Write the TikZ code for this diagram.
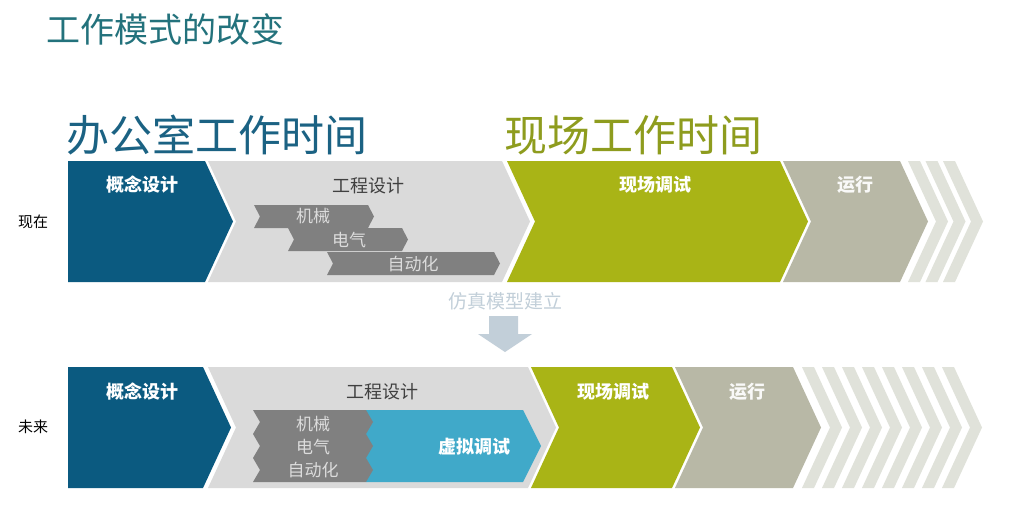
\documentclass[tikz,border=0pt]{standalone}
\usepackage{fontspec}
\setmainfont{Noto Sans CJK SC}
\definecolor{cblue}{HTML}{0B5A80}
\definecolor{cgrey}{HTML}{DADADA}
\definecolor{csub}{HTML}{808080}
\definecolor{cgreen}{HTML}{A9B416}
\definecolor{cbeige}{HTML}{B8B8A6}
\definecolor{cstripe}{HTML}{E0E2DA}
\definecolor{cvirt}{HTML}{40A9C9}
\definecolor{ctitle}{HTML}{23727C}
\definecolor{coffice}{HTML}{1B6283}
\definecolor{csite}{HTML}{8E9C1E}
\definecolor{carrow}{HTML}{C2CFD9}
\definecolor{csubtxt}{HTML}{DCDCDC}
\definecolor{cengtxt}{HTML}{404040}
% chevron: fill, x1, x2, ytop, ybot, depth, notch (0/1)
\newcommand\mychev[7]{%
  \fill[#1] (#2,#4) -- (#3,#4) -- ({#3+#6},{(#4+#5)/2}) -- (#3,#5) -- (#2,#5)
    -- ({#2+#7*#6},{(#4+#5)/2}) -- cycle;}
\tikzset{
  lbl/.style={font=\fontsize{18}{18}\selectfont\bfseries, inner sep=0pt},
  englbl/.style={font=\fontsize{18}{18}\selectfont, text=cengtxt, inner sep=0pt},
  sublbl/.style={font=\fontsize{17}{17}\selectfont, text=csubtxt, inner sep=0pt},
  rowlbl/.style={font=\fontsize{15}{15}\selectfont, text=black, inner sep=0pt},
  bigtitle/.style={font=\fontsize{43}{43}\selectfont, inner sep=0pt},
}
\begin{document}
\begin{tikzpicture}[x=1pt,y=-1pt]
\useasboundingbox (0,0) rectangle (1009,517);
\fill[white] (0,0) rectangle (1009,517);

% titles
\node[font=\fontsize{34}{34}\selectfont, text=ctitle, inner sep=0pt] (title) at (165,29) {工作模式的改变};
\node[bigtitle, text=coffice] (office) at (217,135) {办公室工作时间};
\node[bigtitle, text=csite] (site) at (633,135) {现场工作时间};

% ---------------- top row ----------------
\mychev{cblue}{68}{205}{161}{282}{28}{0}
\mychev{cgrey}{208}{502}{161}{282}{28}{1}
\mychev{cgreen}{507}{780}{161}{282}{28}{1}
\mychev{cbeige}{783}{900}{161}{282}{28}{1}
\foreach \s in {908,925.5,943} {\mychev{cstripe}{\s}{\s+12}{161}{282}{28}{1}}
% sub chevrons
\mychev{csub}{254}{368}{205}{228}{6}{1}
\mychev{csub}{288}{402}{228}{251}{6}{1}
\mychev{csub}{327}{494}{252}{275}{6}{1}

\node[rowlbl] (now) at (33,222) {现在};
\node[lbl, text=white] (t1) at (142,185) {概念设计};
\node[englbl] (t2) at (368,186) {工程设计};
\node[lbl, text=white] (t3) at (655,185) {现场调试};
\node[lbl, text=white!92!cbeige] (t4) at (855,185) {运行};
\node[sublbl] (t5) at (313,216) {机械};
\node[sublbl] (t6) at (349,240) {电气};
\node[sublbl] (t7) at (413,264) {自动化};

% ---------------- middle ----------------
\node[font=\fontsize{19}{19}\selectfont, text=carrow, inner sep=0pt] (sim) at (505,301) {仿真模型建立};
\fill[carrow] (489,316) -- (518,316) -- (518,334) -- (532,334) -- (505,352)
  -- (478,334) -- (489,334) -- cycle;

% ---------------- bottom row ----------------
\mychev{cblue}{68}{203}{367}{488}{28}{0}
\mychev{cgrey}{208}{528}{367}{488}{28}{1}
\mychev{cgreen}{531}{672}{367}{488}{28}{1}
\mychev{cbeige}{675}{793}{367}{488}{28}{1}
\foreach \s in {802,822,...,942} {\mychev{cstripe}{\s}{\s+12}{367}{488}{28}{1}}
% virtual commissioning
\fill[cvirt] (366,410) -- (523,410) -- (541,446) -- (523,482) -- (366,482) -- cycle;
\fill[csub] (253,410) -- (366,410) -- (373,422) -- (366,434) -- (373,446) -- (366,458)
  -- (373,470) -- (366,482) -- (253,482) -- (260,470) -- (253,458) -- (260,446)
  -- (253,434) -- (260,422) -- cycle;

\node[rowlbl] (future) at (33,427) {未来};
\node[lbl, text=white] (b1) at (142,392) {概念设计};
\node[englbl] (b2) at (382,392) {工程设计};
\node[lbl, text=white] (b3) at (613,392) {现场调试};
\node[lbl, text=white!92!cbeige] (b4) at (747,392) {运行};
\node[sublbl] (b5) at (313,424) {机械};
\node[sublbl] (b6) at (313,447) {电气};
\node[sublbl] (b7) at (313,470) {自动化};
\node[lbl, text=white] (b8) at (474,447) {虚拟调试};
\end{tikzpicture}
\end{document}
